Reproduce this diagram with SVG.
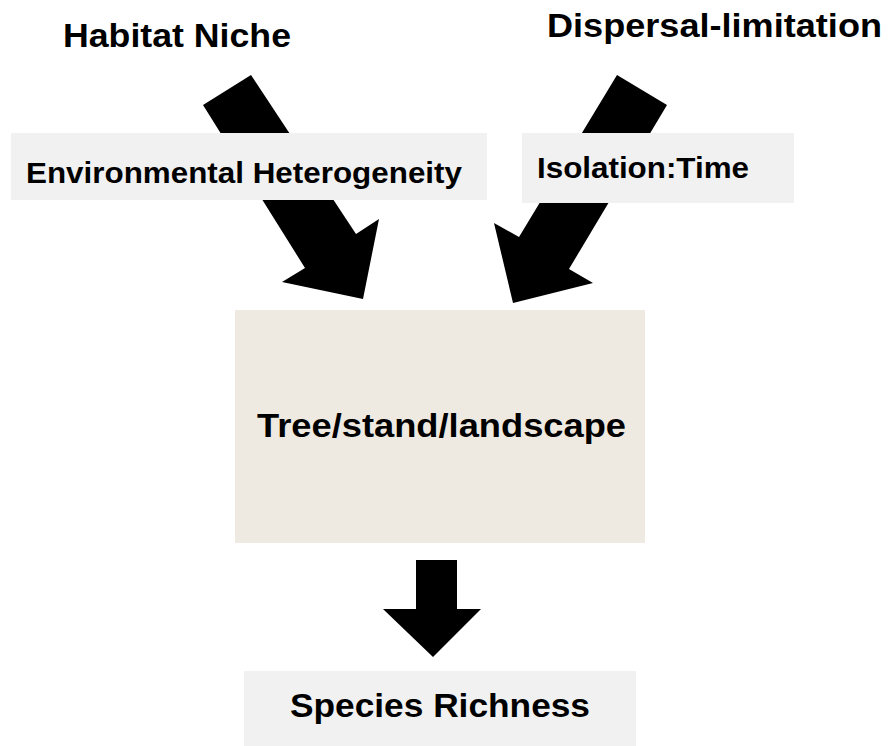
<svg xmlns="http://www.w3.org/2000/svg" width="893" height="746" viewBox="0 0 893 746">
<style>
.t{font-family:"Liberation Sans",Arial,sans-serif;font-weight:bold;fill:#000}
.big{font-size:33px}
.mid{font-size:29.5px}
.lbl{fill:#F1F1F1}
.arr{fill:#000}
</style>
<rect width="893" height="746" fill="#fff"/>
<g id="connectors">
<polygon class="arr" points="203,105 251,75 356,234 379,219 363,299 282,282 305,268"/>
<polygon class="arr" points="617,75 667,105 569,269 593,283 513,303 494,223 519,237"/>
<polygon class="arr" points="416,560 457,560 457,609 481,609 433,657 383,609 416,609"/>
</g>
<g id="habitat-niche">
<text class="t big" x="63" y="47" textLength="228" lengthAdjust="spacingAndGlyphs">Habitat Niche</text>
</g>
<g id="dispersal-limitation">
<text class="t big" x="547" y="37" textLength="335" lengthAdjust="spacingAndGlyphs">Dispersal-limitation</text>
</g>
<g id="environmental-heterogeneity">
<rect class="lbl" x="11" y="133" width="476" height="67"/>
<text class="t mid" x="26" y="183" textLength="436" lengthAdjust="spacingAndGlyphs">Environmental Heterogeneity</text>
</g>
<g id="isolation-time">
<rect class="lbl" x="522" y="133" width="272" height="70"/>
<text class="t mid" x="537" y="178" textLength="212" lengthAdjust="spacingAndGlyphs">Isolation:Time</text>
</g>
<g id="tree-stand-landscape">
<rect x="235" y="310" width="410" height="233" fill="#EEEAE1"/>
<text class="t big" x="257" y="437" textLength="369" lengthAdjust="spacingAndGlyphs">Tree/stand/landscape</text>
</g>
<g id="species-richness">
<rect class="lbl" x="244" y="671" width="392" height="75"/>
<text class="t big" x="290" y="717" textLength="300" lengthAdjust="spacingAndGlyphs">Species Richness</text>
</g>
</svg>
